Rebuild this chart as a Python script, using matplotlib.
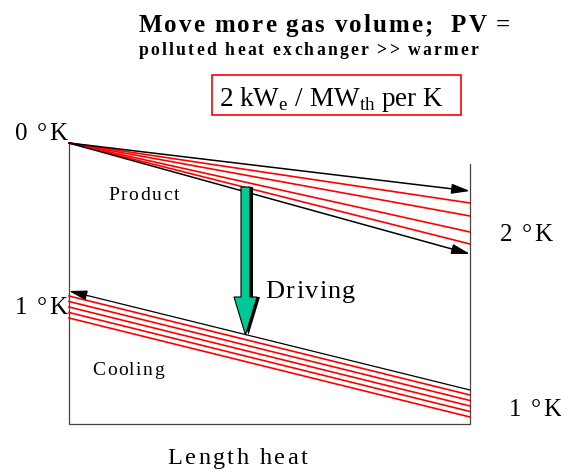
import matplotlib
matplotlib.use("Agg")
import matplotlib.pyplot as plt
from matplotlib.patches import FancyArrow, Rectangle

plt.rcParams['font.family'] = ['Liberation Serif', 'DejaVu Serif']
plt.rcParams['mathtext.fontset'] = 'custom'
plt.rcParams['mathtext.rm'] = 'Liberation Serif'

# diagram coordinates (pixel grid of the sketch, y grows downwards)
x_left, x_right = 69, 470
y_bottom = 424
product_start = 143
product_end = [191, 203, 216, 232, 244, 254]
product_colors = ['black', 'red', 'red', 'red', 'red', 'black']
cooling_black = (291, 390)              # left, right
cooling_red_left = [296, 301.5, 307, 312.5, 318]
cooling_red_right = [395, 400.5, 406, 411.5, 417]

fig = plt.figure(figsize=(5.61, 4.70), dpi=100)
ax = fig.add_axes([0, 0, 1, 1])
ax.set_xlim(0, 561)
ax.set_ylim(470, 0)
ax.axis('off')
renderer = fig.canvas.get_renderer()


def text_width(s, **kw):
    t = ax.text(0, 0, s + '|', **kw)
    w1 = t.get_window_extent(renderer).width
    t.remove()
    t = ax.text(0, 0, '|', **kw)
    w0 = t.get_window_extent(renderer).width
    t.remove()
    return w1 - w0


def spaced_text(xc, y, s, spacing, **kw):
    # letter-spaced text, centred on xc, sitting on baseline y
    total = text_width(s, **kw) + (len(s) - 1) * spacing
    x0 = xc - total / 2
    for i, ch in enumerate(s):
        if ch == ' ':
            continue
        ax.text(x0 + text_width(s[:i], **kw) + i * spacing, y, ch,
                ha='left', va='baseline', **kw)


# frame
ax.plot([x_left, x_left, x_right, x_right], [product_start, y_bottom, y_bottom, 164],
        color='#444444', lw=0.9, solid_joinstyle='miter')

# product fan
for y_end, c in zip(product_end, product_colors):
    if c == 'black':
        ax.annotate('', xy=(x_right, y_end), xytext=(x_left, product_start),
                    arrowprops=dict(arrowstyle='-|>,head_length=1.1,head_width=0.3',
                                    color='black', lw=1.1, mutation_scale=10,
                                    shrinkA=0, shrinkB=0))
    else:
        ax.plot([x_left, x_right], [product_start, y_end], color='red', lw=1.2)

# cooling lines
for yl, yr in zip(cooling_red_left, cooling_red_right):
    ax.plot([x_left, x_right], [yl, yr], color='red', lw=1.2)
ax.annotate('', xy=(x_left, cooling_black[0]), xytext=(x_right, cooling_black[1]),
            arrowprops=dict(arrowstyle='-|>,head_length=1.1,head_width=0.3',
                            color='black', lw=0.9, mutation_scale=10,
                            shrinkA=0, shrinkB=0))

# driving arrow (with shadow)
arrow_kw = dict(width=9, head_width=23, head_length=38, length_includes_head=True)
ax.add_patch(FancyArrow(248.5, 187, 0, 148, color='black', lw=0, zorder=4, **arrow_kw))
ax.add_patch(FancyArrow(245.5, 187, 0, 148, facecolor='#00C896', edgecolor='black',
                        lw=0.8, zorder=5, **arrow_kw))

# labels
spaced_text(41, 140, '0 °K', 1.8, fontsize=18)
spaced_text(41, 314, '1 °K', 1.8, fontsize=18)
spaced_text(526, 241, '2 °K', 1.8, fontsize=18)
spaced_text(535, 416, '1 °K', 1.8, fontsize=18)
spaced_text(143.5, 200, 'Product', 1.7, fontsize=14)
spaced_text(128, 375, 'Cooling', 1.4, fontsize=14)
spaced_text(310.5, 298, 'Driving', 1.3, fontsize=19)
spaced_text(237.5, 464, 'Length heat', 2.4, fontsize=17.5)

spaced_text(324.5, 32, 'Move more gas volume;  PV =', 2.0, fontsize=18, fontweight='bold')
spaced_text(308.5, 55, 'polluted heat exchanger >> warmer', 2.2, fontsize=12.7,
            fontweight='bold')

ax.add_patch(Rectangle((212, 75), 249, 40, fill=False, edgecolor='red', lw=1.2))
ax.text(331.5, 106.5, r'2 kW$_\mathregular{e}$ / MW$_\mathregular{th}$ per K', fontsize=19.5,
        ha='center', va='baseline')

fig.savefig('out.png', dpi=100)
